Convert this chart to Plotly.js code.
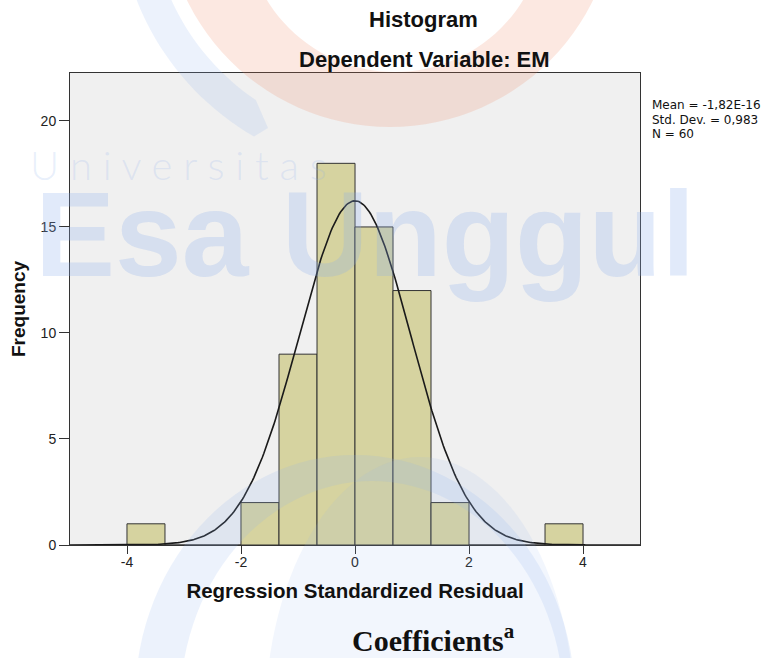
<!DOCTYPE html>
<html>
<head>
<meta charset="utf-8">
<script src="https://cdn.plot.ly/plotly-3.0.1.min.js"></script>
<style>html,body{margin:0;padding:0;background:#fff;}#chart{width:770px;height:658px;}</style>
</head>
<body>
<div id="chart"></div>
<script>
// ---- data ----
const binCenters  = [-3.667, -3, -2.333, -1.667, -1, -0.333, 0.333, 1, 1.667, 2.333, 3, 3.667];
const frequencies = [1, 0, 0, 2, 9, 18, 15, 12, 2, 0, 0, 1];
const binWidth = 0.6667;
const statMean = -1.82e-16;
const statSD = 0.983;
const statN = 60;
const statLabels = ['Mean = -1,82E-16', 'Std. Dev. = 0,983', 'N = 60'];
const xTickVals = [-4, -2, 0, 2, 4];
const xTickText = ['-4', '-2', '0', '2', '4'];
const yTickVals = [0, 5, 10, 15, 20];
const chartTitle = 'Histogram';
const chartSubtitle = 'Dependent Variable: EM';
const xTitle = 'Regression Standardized Residual';
const yTitle = 'Frequency';
const belowText = 'Coefficients<sup>a</sup>';
const watermarkSmall = 'U n i v e r s i t a s';
const watermarkBig = 'Esa Unggul';

// ---- normal curve defined by the stated mean / sd / N ----
const curveX = [], curveY = [];
for (let i = 0; i <= 400; i++) {
  const x = -5 + i * 0.025;
  const z = (x - statMean) / statSD;
  curveX.push(x);
  curveY.push(statN * binWidth * Math.exp(-0.5 * z * z) / (statSD * Math.sqrt(2 * Math.PI)));
}

// ---- geometry helpers for the faint background watermark ----
const PL = 70, PR = 640, PT = 73, PB = 545;
function px(x) { return (x - PL) / (PR - PL); }
function py(y) { return (PB - y) / (PB - PT); }
function arc(cx, cy, rx, ry, a0, a1, n) {
  const pts = [];
  for (let i = 0; i <= n; i++) {
    const a = (a0 + (a1 - a0) * i / n) * Math.PI / 180;
    pts.push([cx + rx * Math.cos(a), cy + ry * Math.sin(a)]);
  }
  return pts;
}
function toPath(sub) {
  return sub.map(pts => 'M' + pts.map(p => px(p[0]).toFixed(4) + ',' + py(p[1]).toFixed(4)).join('L') + 'Z').join(' ');
}
const orange = 'rgba(240,130,90,0.18)';
const blue = 'rgba(140,175,235,0.17)';
const blueLight = 'rgba(150,185,240,0.12)';
const wmShapes = [
  { path: toPath([arc(390, -99, 226, 226, 0, 360, 120), arc(395, -78, 150, 150, 360, 0, 120)]), fillcolor: orange },
  { path: toPath([arc(390, -99, 272, 272, 200, 120, 40).concat([[268, 128]]).concat(arc(390, -99, 240, 240, 124, 200, 40))]), fillcolor: blue },
  { path: toPath([arc(355, 700, 220, 245, 0, 360, 120), arc(372, 706, 192, 225, 360, 0, 120)]), fillcolor: blue },
  { path: toPath([arc(420, 722, 155, 265, 0, 360, 120)]), fillcolor: blueLight },
  { path: toPath([[586, 660], [624, 620], [620, 660]]), fillcolor: orange }
].map(s => Object.assign({ type: 'path', xref: 'paper', yref: 'paper', layer: 'above', line: { width: 0 }, fillrule: 'evenodd' }, s));

// ---- traces ----
const bars = {
  type: 'bar', x: binCenters, y: frequencies, width: binWidth,
  marker: { color: 'rgb(214,211,160)', line: { color: '#333', width: 1 } },
  hoverinfo: 'x+y', showlegend: false
};
const curve = {
  type: 'scatter', mode: 'lines', x: curveX, y: curveY,
  line: { color: '#1a1a1a', width: 1.6 }, hoverinfo: 'skip', showlegend: false
};

const annFont = { family: 'Liberation Sans, Arial, sans-serif', color: '#111' };
const annotations = [
  { text: '<b>' + chartTitle + '</b>', x: px(423), y: py(20), font: Object.assign({ size: 22 }, annFont) },
  { text: '<b>' + chartSubtitle + '</b>', x: px(424), y: py(59), font: Object.assign({ size: 22 }, annFont) },
  { text: '<b>' + belowText + '</b>', x: px(433), y: py(638), font: { family: 'Liberation Serif, Times New Roman, serif', size: 30, color: '#111' } },
  { text: watermarkSmall, x: px(178), y: py(165), font: { family: 'Lato, Open Sans, sans-serif', size: 40, weight: 300, color: 'rgba(140,175,235,0.20)' } },
  { text: '<b>' + watermarkBig + '</b>', x: px(365), y: py(234), font: { family: 'Liberation Sans, Arial, sans-serif', size: 120, color: 'rgba(140,175,235,0.26)' } }
].map(a => Object.assign({ xref: 'paper', yref: 'paper', showarrow: false, xanchor: 'center', yanchor: 'middle' }, a));

const statY = [105, 119.5, 134];
statLabels.forEach((t, i) => annotations.push({
  text: t, xref: 'paper', yref: 'paper', x: px(650), y: py(statY[i]), xanchor: 'left', yanchor: 'middle',
  showarrow: false, font: { family: 'DejaVu Sans, sans-serif', size: 12, color: '#111' }
}));

const layout = {
  width: 770, height: 658,
  margin: { l: PL, r: 770 - PR, t: PT, b: 658 - PB, pad: 0 },
  paper_bgcolor: '#ffffff', plot_bgcolor: '#f0f0f0',
  bargap: 0, showlegend: false,
  xaxis: {
    range: [-5, 5], tickvals: xTickVals, ticktext: xTickText, ticks: 'outside', ticklen: 8, tickcolor: '#333', tickwidth: 1,
    ticklabelstandoff: -4,
    showgrid: false, zeroline: false, showline: true, mirror: true, linecolor: '#333', linewidth: 1,
    tickfont: { family: 'Liberation Sans, Arial, sans-serif', size: 14, color: '#222' },
    title: { text: '<b>' + xTitle + '</b>', standoff: 14, font: { family: 'Liberation Sans, Arial, sans-serif', size: 20.5, color: '#111' } },
    automargin: false, fixedrange: true
  },
  yaxis: {
    range: [0, 22.26], tickvals: yTickVals, ticks: 'outside', ticklen: 10, tickcolor: '#333', tickwidth: 1,
    showgrid: false, zeroline: false, showline: true, mirror: true, linecolor: '#333', linewidth: 1,
    tickfont: { family: 'Liberation Sans, Arial, sans-serif', size: 14, color: '#222' },
    title: { text: '<b>' + yTitle + '</b>', standoff: 9, font: { family: 'Liberation Sans, Arial, sans-serif', size: 19, color: '#111' } },
    automargin: false, fixedrange: true
  },
  shapes: wmShapes,
  annotations: annotations
};

Plotly.newPlot('chart', [bars, curve], layout, { displayModeBar: false, staticPlot: true });
</script>
</body>
</html>
